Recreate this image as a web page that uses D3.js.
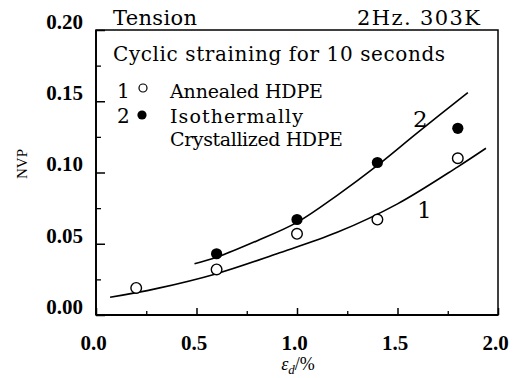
<!DOCTYPE html>
<html><head><meta charset="utf-8">
<script src="https://cdn.jsdelivr.net/npm/d3@7"></script>
<style>
html,body{margin:0;padding:0;background:#fff;}
svg{display:block;}
text{fill:#000;}
</style></head>
<body>
<script>
// ---- data ----
const xTicks = [0.0, 0.5, 1.0, 1.5, 2.0];
const yTicks = [0.00, 0.05, 0.10, 0.15, 0.20];
const xMinor = [0.25, 0.75, 1.25, 1.75];
const yMinor = [0.025, 0.075, 0.125, 0.175];
// series 1: Annealed HDPE (open circles)
const annealedX = [0.2, 0.6, 1.0, 1.4, 1.8];
const annealedY = [0.019, 0.032, 0.057, 0.067, 0.110];
// series 2: Isothermally Crystallized HDPE (filled circles)
const isoX = [0.6, 1.0, 1.4, 1.8];
const isoY = [0.043, 0.067, 0.107, 0.131];
// fitted curves
const curve1X = [0.07, 0.3, 0.6, 0.9, 1.2, 1.5, 1.8, 1.94];
const curve1Y = [0.0124, 0.0185, 0.029, 0.043, 0.058, 0.078, 0.104, 0.117];
const curve2X = [0.49, 0.6, 0.8, 1.0, 1.2, 1.4, 1.6, 1.85];
const curve2Y = [0.036, 0.0405, 0.052, 0.065, 0.084, 0.105, 0.128, 0.156];

const SERIF = "'DejaVu Serif', 'Liberation Serif', serif";
const TIMES = "'Liberation Serif', 'Times New Roman', serif";

const W = 521, H = 378;
const svg = d3.select("body").append("svg").attr("width", W).attr("height", H);

const x = d3.scaleLinear().domain([0, 2]).range([96, 498]);
const y = d3.scaleLinear().domain([0, 0.2]).range([315, 30]);

// frame
svg.append("rect").attr("x", x(0)).attr("y", y(0.2))
  .attr("width", x(2) - x(0)).attr("height", y(0) - y(0.2))
  .attr("fill", "none").attr("stroke", "#000").attr("stroke-width", 1.5);
svg.append("line").attr("x1", x(0)).attr("x2", x(2)).attr("y1", y(0)).attr("y2", y(0)).attr("stroke","#000").attr("stroke-width",2.2);
svg.append("line").attr("x1", x(0)).attr("x2", x(0)).attr("y1", y(0)).attr("y2", y(0.2)).attr("stroke","#000").attr("stroke-width",1.8);

// axes with inward ticks
const xAxis = d3.axisBottom(x).tickValues(xTicks).tickFormat(d3.format(".1f")).tickSizeInner(-7).tickSizeOuter(0).tickPadding(20);
const gx = svg.append("g").attr("transform", `translate(0,${y(0)})`).call(xAxis);
gx.select(".domain").remove();
gx.selectAll(".tick line").attr("stroke-width", 1.5);
gx.attr("font-family", TIMES);
gx.selectAll("text").attr("font-size", 21).attr("font-weight", "bold").attr("dx", -3);

const gxm = svg.append("g").attr("transform", `translate(0,${y(0)})`)
  .call(d3.axisBottom(x).tickValues(xMinor).tickFormat("").tickSizeInner(-4).tickSizeOuter(0));
gxm.select(".domain").remove();
gxm.selectAll(".tick line").attr("stroke-width", 1.3);

const yAxis = d3.axisLeft(y).tickValues(yTicks).tickFormat(d3.format(".2f")).tickSizeInner(-9).tickSizeOuter(0).tickPadding(13);
const gy = svg.append("g").attr("transform", `translate(${x(0)},0)`).call(yAxis);
gy.select(".domain").remove();
gy.selectAll(".tick line").attr("stroke-width", 1.5);
gy.attr("font-family", TIMES);
gy.selectAll("text").attr("font-size", 21).attr("font-weight", "bold").attr("dy", "-0.08em");

const gym = svg.append("g").attr("transform", `translate(${x(0)},0)`)
  .call(d3.axisLeft(y).tickValues(yMinor).tickFormat("").tickSizeInner(-5).tickSizeOuter(0));
gym.select(".domain").remove();
gym.selectAll(".tick line").attr("stroke-width", 1.3);

// curves
const line = d3.line().x(d => x(d[0])).y(d => y(d[1])).curve(d3.curveCatmullRom);
svg.append("path").datum(d3.zip(curve1X, curve1Y)).attr("d", line)
  .attr("fill", "none").attr("stroke", "#000").attr("stroke-width", 1.6);
svg.append("path").datum(d3.zip(curve2X, curve2Y)).attr("d", line)
  .attr("fill", "none").attr("stroke", "#000").attr("stroke-width", 1.6);

// markers
svg.selectAll("circle.s1").data(d3.zip(annealedX, annealedY)).enter().append("circle")
  .attr("class", "s1").attr("cx", d => x(d[0])).attr("cy", d => y(d[1])).attr("r", 5.3)
  .attr("fill", "#fff").attr("stroke", "#000").attr("stroke-width", 1.4);
svg.selectAll("circle.s2").data(d3.zip(isoX, isoY)).enter().append("circle")
  .attr("class", "s2").attr("cx", d => x(d[0])).attr("cy", d => y(d[1])).attr("r", 5.6)
  .attr("fill", "#000");

// text helper: fixed size, letter-spacing adjusted to the width seen in the reference
function label(str, xx, yy, width, size) {
  const t = svg.append("text").attr("x", xx).attr("y", yy)
    .attr("font-family", SERIF).attr("font-size", size).text(str);
  if (width) {
    const len = t.node().getComputedTextLength();
    const ls = (width - len) / Math.max(1, str.length - 1);
    t.attr("letter-spacing", ls.toFixed(2));
  }
  return t;
}

// curve labels
label("1", 417, 218, null, 23);
label("2", 413, 127, null, 23);

// header texts
label("Tension", 113, 25, 84, 21);
label("2Hz. 303K", 357, 25, 123, 21);

// legend
label("Cyclic straining for 10 seconds", 113, 61, 332, 20);
label("1", 117, 98, null, 20);
svg.append("circle").attr("cx", 143).attr("cy", 88).attr("r", 4).attr("fill", "#fff").attr("stroke", "#000").attr("stroke-width", 1.2);
label("Annealed HDPE", 170, 98, 153, 19);
label("2", 117, 123, null, 20);
svg.append("circle").attr("cx", 142).attr("cy", 115).attr("r", 4.6).attr("fill", "#000");
label("Isothermally", 170, 123, 133, 19);
label("Crystallized HDPE", 170, 146, 173, 19);

// axis titles
svg.append("text").attr("transform", "translate(27,164) rotate(-90)").attr("text-anchor", "middle")
  .attr("font-family", TIMES).attr("font-size", 15).text("NVP");
const xt = svg.append("text").attr("x", 298).attr("y", 370).attr("text-anchor", "middle")
  .attr("font-family", TIMES).attr("font-size", 18);
xt.append("tspan").attr("font-style", "italic").text("ε");
xt.append("tspan").attr("font-style", "italic").attr("font-size", 13).attr("dy", 4).text("d");
xt.append("tspan").attr("dy", -4).text("/%");
</script>
</body></html>
